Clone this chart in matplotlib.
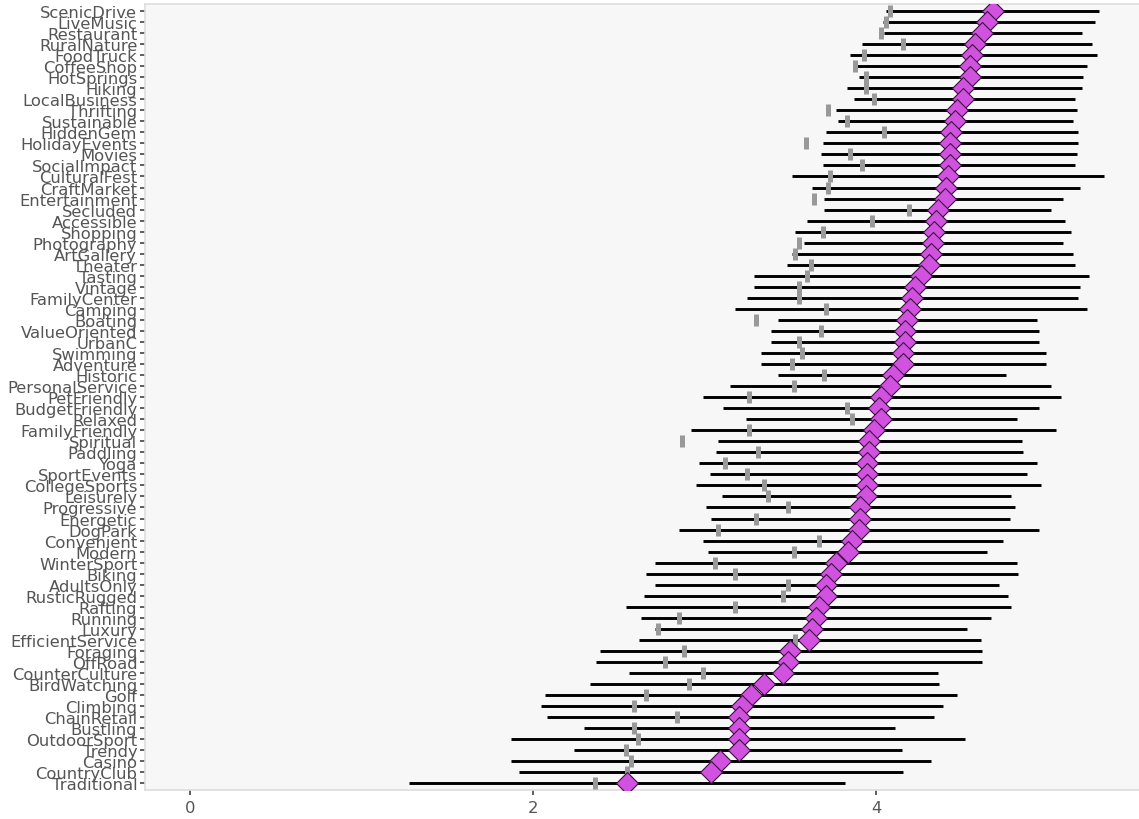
import matplotlib
matplotlib.use("Agg")
import matplotlib.pyplot as plt

# categories, top to bottom
tags = [
    "ScenicDrive", "LiveMusic", "Restaurant", "RuralNature", "FoodTruck",
    "CoffeeShop", "HotSprings", "Hiking", "LocalBusiness", "Thrifting",
    "Sustainable", "HiddenGem", "HolidayEvents", "Movies", "SocialImpact",
    "CulturalFest", "CraftMarket", "Entertainment", "Secluded", "Accessible",
    "Shopping", "Photography", "ArtGallery", "Theater", "Tasting",
    "Vintage", "FamilyCenter", "Camping", "Boating", "ValueOriented",
    "UrbanC", "Swimming", "Adventure", "Historic", "PersonalService",
    "PetFriendly", "BudgetFriendly", "Relaxed", "FamilyFriendly", "Spiritual",
    "Paddling", "Yoga", "SportEvents", "CollegeSports", "Leisurely",
    "Progressive", "Energetic", "DogPark", "Convenient", "Modern",
    "WinterSport", "Biking", "AdultsOnly", "RusticRugged", "Rafting",
    "Running", "Luxury", "EfficientService", "Foraging", "OffRoad",
    "CounterCulture", "BirdWatching", "Golf", "Climbing", "ChainRetail",
    "Bustling", "OutdoorSport", "Trendy", "Casino", "CountryClub",
    "Traditional",
]

# interval low / high
low = [
    4.06, 4.04, 4.05, 3.92, 3.85, 3.88, 3.90, 3.83, 3.87, 3.77,
    3.78, 3.71, 3.69, 3.68, 3.69, 3.51, 3.63, 3.70, 3.70, 3.60,
    3.53, 3.58, 3.51, 3.48, 3.29, 3.29, 3.25, 3.18, 3.43, 3.39,
    3.39, 3.33, 3.33, 3.43, 3.15, 2.99, 3.11, 3.24, 2.92, 3.08,
    3.07, 2.97, 3.03, 2.95, 3.10, 3.01, 3.04, 2.85, 2.99, 3.02,
    2.71, 2.66, 2.71, 2.65, 2.54, 2.63, 2.71, 2.62, 2.39, 2.37,
    2.56, 2.33, 2.07, 2.05, 2.08, 2.30, 1.87, 2.24, 1.87, 1.92,
    1.28,
]
high = [
    5.30, 5.28, 5.20, 5.26, 5.29, 5.23, 5.21, 5.20, 5.16, 5.17,
    5.15, 5.18, 5.18, 5.17, 5.16, 5.33, 5.19, 5.09, 5.02, 5.10,
    5.14, 5.09, 5.15, 5.16, 5.24, 5.19, 5.18, 5.23, 4.94, 4.95,
    4.95, 4.99, 4.99, 4.76, 5.02, 5.08, 4.95, 4.82, 5.05, 4.85,
    4.86, 4.94, 4.88, 4.96, 4.79, 4.81, 4.78, 4.95, 4.74, 4.65,
    4.82, 4.83, 4.72, 4.77, 4.79, 4.67, 4.53, 4.61, 4.62, 4.62,
    4.36, 4.37, 4.47, 4.39, 4.34, 4.11, 4.52, 4.15, 4.32, 4.16,
    3.82,
]
# comparison value (grey tick)
baseline = [
    4.08, 4.06, 4.03, 4.16, 3.93, 3.88, 3.94, 3.94, 3.99, 3.72,
    3.83, 4.05, 3.59, 3.85, 3.92, 3.73, 3.72, 3.64, 4.19, 3.98,
    3.69, 3.55, 3.53, 3.62, 3.60, 3.55, 3.55, 3.71, 3.30, 3.68,
    3.55, 3.57, 3.51, 3.70, 3.52, 3.26, 3.83, 3.86, 3.26, 2.87,
    3.31, 3.12, 3.25, 3.35, 3.37, 3.49, 3.30, 3.08, 3.67, 3.52,
    3.06, 3.18, 3.49, 3.46, 3.18, 2.85, 2.73, 3.53, 2.88, 2.77,
    2.99, 2.91, 2.66, 2.59, 2.84, 2.59, 2.61, 2.54, 2.57, 2.55,
    2.36,
]
# point estimate (diamond)
estimate = [
    4.68, 4.65, 4.62, 4.58, 4.56, 4.55, 4.55, 4.51, 4.51, 4.47,
    4.46, 4.44, 4.43, 4.43, 4.43, 4.42, 4.41, 4.40, 4.36, 4.35,
    4.34, 4.33, 4.32, 4.31, 4.26, 4.23, 4.21, 4.20, 4.18, 4.17,
    4.17, 4.16, 4.16, 4.10, 4.08, 4.03, 4.02, 4.03, 3.99, 3.96,
    3.96, 3.95, 3.95, 3.95, 3.94, 3.91, 3.91, 3.90, 3.86, 3.84,
    3.77, 3.74, 3.71, 3.71, 3.67, 3.65, 3.63, 3.61, 3.50, 3.49,
    3.46, 3.35, 3.27, 3.22, 3.20, 3.20, 3.20, 3.20, 3.09, 3.04,
    2.55,
]

y = list(range(len(tags)))

fig = plt.figure(figsize=(11.39, 8.2), dpi=100)
ax = fig.add_axes([0.1273, 0.0354, 0.8727, 0.9585])
ax.set_facecolor("#f7f7f7")

ax.hlines(y, low, high, colors="black", linewidth=2.1, zorder=2)
ax.plot(baseline, y, linestyle="none", marker="|", markersize=8.5,
        markeredgewidth=3.6, color="#999999", zorder=3)
ax.plot(estimate, y, linestyle="none", marker="D", markersize=11,
        markerfacecolor="#d152df", markeredgecolor="#3a1040",
        markeredgewidth=0.8, zorder=4)

ax.set_xlim(-0.262, 5.534)
ax.set_ylim(len(tags) - 0.4, -0.63)
ax.set_xticks([0, 2, 4])
ax.set_yticks(y)
ax.set_yticklabels(tags)

for side in ["top", "left", "bottom"]:
    ax.spines[side].set_color("#dddddd")
    ax.spines[side].set_linewidth(1.2)
ax.spines["right"].set_visible(False)

ax.tick_params(axis="both", direction="out", length=3.5, width=1.1,
               color="#333333", labelcolor="#555555", labelsize=11.8, pad=2)
ax.tick_params(axis="x", pad=3.5)

fig.savefig("out.png", dpi=100, facecolor="white")
